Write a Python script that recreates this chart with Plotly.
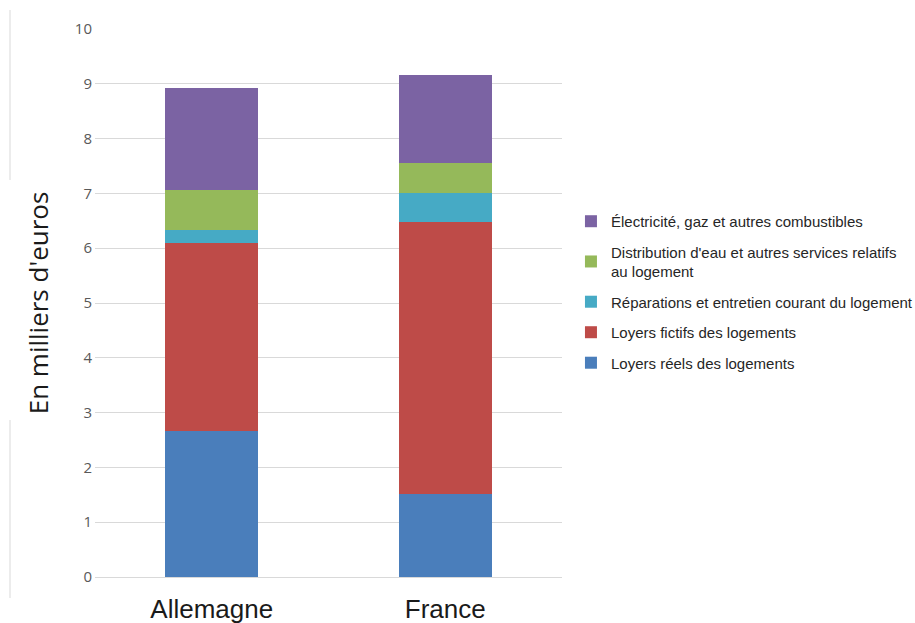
import plotly.graph_objects as go

countries = ["Allemagne", "France"]
series_names = [
    "Loyers réels des logements",
    "Loyers fictifs des logements",
    "Réparations et entretien courant du logement",
    "Distribution d'eau et autres services relatifs<br>au logement",
    "Électricité, gaz et autres combustibles",
]
loyers_reels = [2.66, 1.51]
loyers_fictifs = [3.43, 4.97]
reparations = [0.25, 0.52]
distribution_eau = [0.73, 0.55]
electricite = [1.85, 1.61]
series_values = [loyers_reels, loyers_fictifs, reparations, distribution_eau, electricite]
colors = ["#4A7EBB", "#BE4B48", "#46AAC5", "#95B95A", "#7B63A3"]
y_ticks = list(range(0, 11))

fig = go.Figure()
n = len(series_names)
for i, (name, vals, col) in enumerate(zip(series_names, series_values, colors)):
    fig.add_trace(go.Bar(
        x=countries, y=vals, name=name,
        marker=dict(color=col, line=dict(width=0)),
        legendgroup=f"g{i}",
        legendrank=100 + (n - i) * 10,
    ))

grid = "#D9D9D9"
fig.update_layout(
    barmode="stack",
    bargap=0.6,
    width=915, height=623,
    margin=dict(l=95, r=353, t=29, b=46, autoexpand=False),
    plot_bgcolor="white", paper_bgcolor="white",
    showlegend=True,
    legend=dict(
        xref="container", yref="container",
        x=0.624, y=0.671, xanchor="left", yanchor="top",
        traceorder="grouped",
        tracegroupgap=8,
        font=dict(family="Liberation Sans, Arial, sans-serif", size=15, color="#262626"),
        itemwidth=30,
    ),
    xaxis=dict(
        showgrid=False, showline=False, ticks="", automargin=False,
        ticklabelstandoff=14,
        tickfont=dict(family="Liberation Sans, Arial, sans-serif", size=26, color="#1a1a1a"),
    ),
    yaxis=dict(
        range=[0, 10], tickvals=y_ticks, automargin=False,
        showgrid=True, gridcolor=grid, gridwidth=1,
        zeroline=True, zerolinecolor=grid, zerolinewidth=1,
        showline=False, ticks="",
        ticklabelstandoff=2,
        tickfont=dict(family="Open Sans, sans-serif", size=15, color="#595959"),
        title=dict(text="En milliers d'euros", standoff=18,
                   font=dict(family="Open Sans, sans-serif", size=26, color="#1a1a1a")),
    ),
    shapes=[
        dict(type="line", xref="paper", yref="paper", x0=-0.182, x1=-0.182,
             y0=1.0347, y1=0.7245, line=dict(color=grid, width=1)),
        dict(type="line", xref="paper", yref="paper", x0=-0.182, x1=-0.182,
             y0=0.2865, y1=-0.0383, line=dict(color=grid, width=1)),
    ],
)

fig.write_html("out.html")
